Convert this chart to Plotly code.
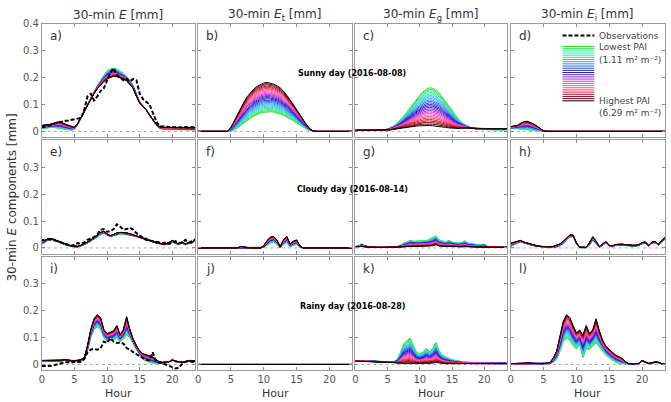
import numpy as np
import plotly.graph_objects as go

# ---------------- data ----------------
hours = [0.0, 0.5, 1.0, 1.5, 2.0, 2.5, 3.0, 3.5, 4.0, 4.5, 5.0, 5.5, 6.0, 6.5, 7.0, 7.5,
         8.0, 8.5, 9.0, 9.5, 10.0, 10.5, 11.0, 11.5, 12.0, 12.5, 13.0, 13.5, 14.0, 14.5, 15.0, 15.5,
         16.0, 16.5, 17.0, 17.5, 18.0, 18.5, 19.0, 19.5, 20.0, 20.5, 21.0, 21.5, 22.0, 22.5, 23.0, 23.5]

pai_values = [1.11, 1.32, 1.52, 1.73, 1.94, 2.15, 2.35, 2.56, 2.77, 2.97, 3.18, 3.39, 3.59,
              3.80, 4.01, 4.22, 4.42, 4.63, 4.84, 5.04, 5.25, 5.46, 5.66, 5.87, 6.08, 6.29]

column_titles = ["30-min <i>E</i> [mm]", "30-min <i>E</i><sub>t</sub> [mm]",
                 "30-min <i>E</i><sub>g</sub> [mm]", "30-min <i>E</i><sub>i</sub> [mm]"]
day_labels = ["Sunny day (2016-08-08)", "Cloudy day (2016-08-14)", "Rainy day (2016-08-28)"]
panel_letters = ["a)", "b)", "c)", "d)", "e)", "f)", "g)", "h)", "i)", "j)", "k)", "l)"]
x_ticks = [0, 5, 10, 15, 20]

# Sunny day
a_low = [0.010,0.012,0.015,0.015,0.014,0.012,0.010,0.008,0.006,0.005,
         0.008,0.025,0.050,0.075,0.100,0.125,0.150,0.170,0.190,0.210,
         0.225,0.232,0.235,0.232,0.225,0.215,0.205,0.190,0.170,0.140,
         0.110,0.095,0.080,0.060,0.040,0.025,0.012,0.008,0.007,0.007,
         0.007,0.006,0.006,0.006,0.006,0.006,0.006,0.006]
a_high = [0.022,0.025,0.025,0.028,0.030,0.035,0.033,0.028,0.022,0.018,
          0.015,0.030,0.052,0.075,0.098,0.120,0.140,0.158,0.172,0.185,
          0.195,0.200,0.205,0.203,0.200,0.195,0.188,0.175,0.160,0.130,
          0.105,0.093,0.080,0.062,0.045,0.028,0.018,0.015,0.015,0.015,
          0.015,0.015,0.015,0.014,0.014,0.014,0.014,0.014]
a_obs = [0.015,0.018,0.020,0.025,0.030,0.035,0.035,0.040,0.040,0.042,
         0.045,0.048,0.050,0.080,0.130,0.140,0.115,0.130,0.150,0.160,
         0.190,0.220,0.235,0.210,0.200,0.190,0.195,0.185,0.195,0.190,
         0.140,0.120,0.110,0.100,0.070,0.040,0.020,0.018,0.018,0.016,
         0.016,0.015,0.016,0.015,0.016,0.015,0.015,0.015]
b_low = [0,0,0,0,0,0,0,0,0,0,
         0,0.005,0.012,0.022,0.032,0.042,0.050,0.057,0.063,0.068,
         0.071,0.073,0.073,0.072,0.069,0.065,0.060,0.054,0.047,0.040,
         0.032,0.024,0.016,0.009,0.004,0.001,0,0,0,0,
         0,0,0,0,0,0,0,0]
b_high = [0,0,0,0,0,0,0,0,0,0,
          0.015,0.040,0.065,0.090,0.110,0.130,0.145,0.158,0.168,0.175,
          0.180,0.182,0.180,0.176,0.170,0.162,0.150,0.135,0.118,0.100,
          0.080,0.060,0.042,0.025,0.010,0.002,0,0,0,0,
          0,0,0,0,0,0,0,0]
c_low = [0.005,0.005,0.005,0.005,0.005,0.005,0.005,0.005,0.005,0.006,
         0.009,0.014,0.021,0.031,0.043,0.057,0.072,0.088,0.104,0.119,
         0.134,0.147,0.157,0.162,0.160,0.153,0.142,0.127,0.110,0.093,
         0.076,0.060,0.046,0.034,0.025,0.018,0.013,0.010,0.009,0.008,
         0.007,0.006,0.006,0.006,0.006,0.006,0.006,0.006]
c_high = [0.004,0.004,0.004,0.004,0.004,0.004,0.004,0.004,0.004,0.004,
          0.005,0.006,0.008,0.010,0.012,0.014,0.016,0.018,0.019,0.020,
          0.021,0.022,0.022,0.022,0.021,0.020,0.019,0.017,0.015,0.013,
          0.012,0.011,0.011,0.012,0.013,0.013,0.012,0.011,0.010,0.010,
          0.010,0.010,0.010,0.010,0.010,0.010,0.010,0.010]
d_low = [0.010,0.012,0.010,0.008,0.007,0.006,0.005,0.004,0.002,0.001,
         0,0,0,0,0,0,0,0,0,0, 0,0,0,0,0,0,0,0,0,0,
         0,0,0,0,0,0,0,0,0,0, 0,0,0,0,0,0,0,0]
d_high = [0.018,0.020,0.022,0.030,0.036,0.038,0.034,0.028,0.020,0.010,
          0.002,0,0,0,0,0,0,0,0,0, 0,0,0,0,0,0,0,0,0,0,
          0,0,0,0,0,0,0,0,0,0, 0,0,0,0,0,0,0,0]

# Cloudy day
e_low = [0.012,0.020,0.030,0.032,0.028,0.022,0.017,0.012,0.009,0.006,
         0.004,0.004,0.007,0.012,0.018,0.025,0.032,0.040,0.050,0.055,
         0.048,0.042,0.046,0.050,0.052,0.052,0.050,0.048,0.045,0.042,
         0.038,0.035,0.038,0.028,0.022,0.018,0.015,0.012,0.012,0.016,
         0.022,0.016,0.012,0.018,0.012,0.016,0.016,0.028]
e_high = [0.030,0.028,0.035,0.035,0.030,0.025,0.020,0.015,0.012,0.008,
          0.006,0.006,0.010,0.015,0.022,0.030,0.038,0.048,0.058,0.062,
          0.052,0.046,0.050,0.056,0.058,0.058,0.056,0.053,0.049,0.045,
          0.040,0.035,0.030,0.027,0.024,0.020,0.018,0.015,0.015,0.020,
          0.028,0.020,0.015,0.022,0.015,0.020,0.020,0.035]
e_obs = [0.030,0.028,0.032,0.030,0.028,0.025,0.020,0.015,0.010,0.008,
         0.012,0.018,0.015,0.020,0.030,0.035,0.040,0.050,0.068,0.070,
         0.060,0.062,0.070,0.088,0.080,0.068,0.070,0.075,0.068,0.055,
         0.045,0.038,0.030,0.028,0.025,0.022,0.020,0.018,0.020,0.015,
         0.020,0.025,0.018,0.020,0.030,0.020,0.025,0.030]
f_low = [0,0,0,0,0,0,0,0,0,0, 0,0,0,0,0,0,0,0,0,0,
         0.002,0.010,0.018,0.022,0.014,0,0.012,0.020,0.004,0.010,
         0.013,0.002,0,0,0,0,0,0,0,0, 0,0,0,0,0,0,0,0]
f_high = [0,0,0,0,0,0,0,0,0,0, 0,0,0,0.006,0.003,0,0,0,0,0,
          0.008,0.028,0.040,0.043,0.030,0.005,0.030,0.043,0.015,0.025,
          0.030,0.008,0,0,0,0,0,0,0,0, 0,0,0,0,0,0,0,0]
g_low = [0.005,0.008,0.015,0.008,0.005,0.003,0.003,0.003,0.003,0.003,
         0.003,0.003,0.003,0.005,0.010,0.018,0.022,0.028,0.025,0.026,
         0.025,0.028,0.027,0.032,0.038,0.045,0.030,0.025,0.022,0.028,
         0.022,0.020,0.018,0.020,0.026,0.018,0.015,0.014,0.012,0.012,
         0.014,0.006,0.004,0.003,0.003,0.003,0.003,0.003]
g_high = [0.003,0.004,0.006,0.004,0.003,0.002,0.002,0.002,0.002,0.002,
          0.002,0.002,0.002,0.002,0.003,0.004,0.005,0.006,0.006,0.006,
          0.006,0.006,0.006,0.007,0.008,0.012,0.007,0.006,0.005,0.006,
          0.005,0.005,0.004,0.004,0.005,0.004,0.004,0.003,0.003,0.003,
          0.003,0.002,0.002,0.002,0.002,0.002,0.002,0.002]
h_low = [0.005,0.012,0.018,0.022,0.018,0.014,0.011,0.008,0.006,0.004,
         0.003,0.002,0.001,0.001,0.003,0.008,0.015,0.028,0.040,0.042,
         0.015,0.001,0.001,0.001,0.010,0.028,0.015,0.002,0.010,0.018,
         0.006,0.004,0.010,0.011,0.011,0.009,0.007,0.007,0.007,0.009,
         0.015,0.017,0.007,0.017,0.019,0.010,0.022,0.032]
h_high = [0.018,0.022,0.025,0.028,0.022,0.018,0.014,0.011,0.008,0.006,
          0.005,0.004,0.004,0.006,0.010,0.015,0.025,0.038,0.048,0.048,
          0.020,0.003,0.002,0.002,0.020,0.042,0.025,0.005,0.015,0.024,
          0.010,0.008,0.013,0.014,0.014,0.012,0.010,0.010,0.010,0.012,
          0.020,0.022,0.010,0.022,0.024,0.014,0.028,0.040]

# Rainy day
i_low = [0.012,0.012,0.012,0.012,0.012,0.012,0.013,0.015,0.013,0.012,
         0.012,0.012,0.014,0.018,0.050,0.100,0.130,0.140,0.130,0.100,
         0.085,0.090,0.090,0.100,0.085,0.095,0.110,0.100,0.075,0.055,
         0.035,0.020,0.012,0.008,0.005,0.003,0.003,0.005,0.008,0.010,
         0.020,0.010,0.008,0.008,0.010,0.012,0.012,0.010]
i_high = [0.015,0.015,0.015,0.015,0.015,0.015,0.016,0.018,0.016,0.015,
          0.015,0.015,0.018,0.025,0.070,0.130,0.170,0.185,0.175,0.130,
          0.115,0.120,0.125,0.145,0.110,0.130,0.178,0.130,0.095,0.070,
          0.050,0.040,0.035,0.032,0.028,0.020,0.010,0.008,0.008,0.010,
          0.015,0.012,0.010,0.008,0.010,0.015,0.015,0.012]
i_obs = [-0.006,-0.007,-0.006,-0.005,-0.002,0.003,0.006,0.008,0.008,0.008,
         0.008,0.008,0.010,0.020,0.045,0.055,0.058,0.055,0.060,0.085,
         0.080,0.098,0.085,0.080,0.082,0.078,0.061,0.055,0.045,0.038,
         0.030,0.022,0.017,0.015,0.045,0.010,0.008,0.005,0.000,-0.005,
         -0.010,-0.015,-0.012,0.002,0.010,0.012,0.010,0.010]
j_low = [0,0,0,0,0,0,0,0,0,0, 0,0,0,0,0,0,0,0,0,0, 0,0,0,0,0,0,0,0,0,0,
         0,0,0,0,0,0,0,0,0,0, 0,0,0,0,0,0,0,0]
j_high = [0,0,0,0,0,0,0,0,0,0, 0,0,0,0,0,0,0,0,0,0, 0,0,0,0,0,0,0,0,0,0,
          0,0,0,0,0,0,0,0,0,0, 0,0,0,0,0,0,0,0]
k_low = [0.015,0.015,0.014,0.014,0.013,0.013,0.013,0.012,0.011,0.010,
         0.010,0.010,0.011,0.020,0.045,0.077,0.088,0.098,0.070,0.045,
         0.040,0.045,0.060,0.048,0.060,0.082,0.050,0.035,0.028,0.022,
         0.018,0.015,0.012,0.010,0.009,0.008,0.008,0.007,0.007,0.006,
         0.006,0.005,0.005,0.005,0.005,0.006,0.006,0.005]
k_high = [0.012,0.012,0.011,0.011,0.010,0.010,0.010,0.009,0.009,0.008,
          0.008,0.008,0.007,0.005,0.004,0.004,0.004,0.004,0.004,0.003,
          0.003,0.003,0.004,0.004,0.005,0.008,0.006,0.004,0.003,0.003,
          0.003,0.003,0.003,0.003,0.003,0.003,0.003,0.003,0.003,0.003,
          0.003,0.003,0.003,0.003,0.003,0.003,0.003,0.003]
l_low = [0.002,0.002,0.002,0.002,0.003,0.003,0.003,0.003,0.002,0.002,
         0.002,0.002,0.003,0.008,0.020,0.050,0.085,0.098,0.090,0.070,
         0.058,0.074,0.025,0.060,0.055,0.070,0.080,0.065,0.050,0.035,
         0.025,0.015,0.008,0.004,0.002,0.002,0.002,0.002,0.002,0.003,
         0.012,0.006,0.003,0.004,0.008,0.006,0.002,0.002]
l_high = [0.003,0.003,0.003,0.004,0.005,0.006,0.006,0.005,0.004,0.003,
          0.003,0.004,0.008,0.025,0.050,0.100,0.160,0.185,0.175,0.145,
          0.118,0.128,0.110,0.145,0.115,0.130,0.170,0.125,0.090,0.068,
          0.055,0.045,0.035,0.030,0.022,0.010,0.003,0.002,0.002,0.004,
          0.015,0.008,0.004,0.006,0.010,0.008,0.003,0.002]

panels_low = [a_low, b_low, c_low, d_low, e_low, f_low, g_low, h_low, i_low, j_low, k_low, l_low]
panels_high = [a_high, b_high, c_high, d_high, e_high, f_high, g_high, h_high, i_high, j_high, k_high, l_high]
observations = {0: a_obs, 4: e_obs, 8: i_obs}

# ---------------- styling ----------------
W, H = 671, 402
COL_PX = [(39, 193), (196, 351), (354, 506), (510, 665)]
ROW_PX = [(19, 134), (137, 252), (255, 370)]
FONT = "DejaVu Sans"

anchors = [(0.0, (30, 224, 30)), (0.1, (70, 232, 150)), (0.2, (30, 215, 225)),
           (0.3, (70, 150, 240)), (0.4, (40, 70, 230)), (0.48, (40, 20, 170)),
           (0.56, (130, 40, 210)), (0.64, (225, 50, 225)), (0.72, (245, 100, 170)),
           (0.8, (240, 60, 90)), (0.88, (200, 10, 40)), (0.95, (110, 10, 20)),
           (1.0, (0, 0, 0))]


def cmap(t):
    for (t0, c0), (t1, c1) in zip(anchors[:-1], anchors[1:]):
        if t <= t1:
            f = (t - t0) / (t1 - t0) if t1 > t0 else 0
            c = [round(c0[k] + (c1[k] - c0[k]) * f) for k in range(3)]
            return "rgb(%d,%d,%d)" % tuple(c)
    return "rgb(0,0,0)"


pmin, pmax = pai_values[0], pai_values[-1]
member_colors = [cmap((p - pmin) / (pmax - pmin)) for p in pai_values]


def px_x(px):
    return px / W


def px_y(py):
    return 1 - py / H


fig = go.Figure()
layout = dict(width=W, height=H, margin=dict(l=0, r=0, t=0, b=0),
              paper_bgcolor="white", plot_bgcolor="white", showlegend=False,
              font=dict(family=FONT, color="#444", size=10))
shapes = []
annotations = []

x_arr = np.array(hours)
for k in range(12):
    r, c = divmod(k, 4)
    n = k + 1
    xa = "x" if n == 1 else "x%d" % n
    ya = "y" if n == 1 else "y%d" % n
    lo = np.array(panels_low[k], dtype=float)
    hi = np.array(panels_high[k], dtype=float)
    for m, p in enumerate(pai_values):
        f = (p - pmin) / (pmax - pmin)
        yv = lo + (hi - lo) * f
        fig.add_trace(go.Scatter(x=x_arr, y=yv, mode="lines", xaxis=xa, yaxis=ya,
                                 line=dict(color=member_colors[m], width=1),
                                 hoverinfo="skip"))
    if k in observations:
        fig.add_trace(go.Scatter(x=x_arr, y=observations[k], mode="lines", xaxis=xa, yaxis=ya,
                                 line=dict(color="black", width=2, dash="4px,2px"),
                                 hoverinfo="skip"))
    x0, x1 = COL_PX[c]
    y0, y1 = ROW_PX[r]
    yt = [0, 0.1, 0.2, 0.3, 0.4] if r == 0 else [0, 0.1, 0.2, 0.3]
    ytt = ["0", "0.1", "0.2", "0.3", "0.4"][:len(yt)]
    layout["xaxis" if n == 1 else "xaxis%d" % n] = dict(
        domain=[px_x(x0), px_x(x1)], range=[0, 23.5], anchor=ya,
        tickvals=x_ticks, showticklabels=(r == 2), ticks="inside", ticklen=3,
        tickcolor="#888", showline=True, linecolor="#9a9a9a", linewidth=1,
        mirror="ticks", showgrid=False, zeroline=False,
        tickfont=dict(size=10, color="#555", family=FONT))
    layout["yaxis" if n == 1 else "yaxis%d" % n] = dict(
        domain=[px_y(y1), px_y(y0)], range=[-0.022, 0.4], anchor=xa,
        tickvals=yt, ticktext=ytt, showticklabels=(c == 0), ticks="inside", ticklen=3,
        tickcolor="#888", showline=True, linecolor="#9a9a9a", linewidth=1,
        mirror="ticks", showgrid=False, zeroline=False,
        tickfont=dict(size=10, color="#555", family=FONT))
    shapes.append(dict(type="line", xref=xa + " domain", yref=ya, x0=0, x1=1, y0=0, y1=0,
                       line=dict(color="#aaaaaa", width=1, dash="dot"), layer="below"))
    annotations.append(dict(text=panel_letters[k], xref=xa + " domain", yref=ya + " domain",
                            x=0.04, y=0.975, xanchor="left", yanchor="top", showarrow=False,
                            font=dict(size=12, color="#333", family=FONT)))

for c in range(4):
    x0, x1 = COL_PX[c]
    annotations.append(dict(text=column_titles[c], xref="paper", yref="paper",
                            x=px_x((x0 + x1) / 2), y=px_y(10), xanchor="center", yanchor="middle",
                            showarrow=False, font=dict(size=12, color="#333", family=FONT)))
    annotations.append(dict(text="Hour", xref="paper", yref="paper",
                            x=px_x((x0 + x1) / 2), y=px_y(393), xanchor="center", yanchor="middle",
                            showarrow=False, font=dict(size=11, color="#333", family=FONT)))

for r, lab in enumerate(day_labels):
    yc = [69, 187, 305][r]
    annotations.append(dict(text="<b>%s</b>" % lab, xref="paper", yref="paper",
                            x=px_x(351), y=px_y(yc), xanchor="center", yanchor="middle",
                            showarrow=False, font=dict(size=8, color="black", family=FONT)))

annotations.append(dict(text="30-min <i>E</i> components [mm]", xref="paper", yref="paper",
                        x=px_x(9), y=px_y(195), textangle=-90, xanchor="center", yanchor="middle",
                        showarrow=False, font=dict(size=12, color="#333", family=FONT)))

# legend inside panel d
lx0, lx1 = 562, 594
shapes.append(dict(type="line", xref="paper", yref="paper", x0=px_x(lx0), x1=px_x(lx1),
                   y0=px_y(31), y1=px_y(31), line=dict(color="black", width=2, dash="4px,2px")))
nm = len(pai_values)
for m in range(nm):
    yy = 42 + (97 - 42) * m / (nm - 1)
    shapes.append(dict(type="line", xref="paper", yref="paper", x0=px_x(lx0), x1=px_x(lx1),
                       y0=px_y(yy), y1=px_y(yy), line=dict(color=member_colors[m], width=1)))
for txt, yy in [("Observations", 31), ("Lowest PAI", 43), ("(1.11 m² m⁻²)", 56),
                ("Highest PAI", 97), ("(6.29 m² m⁻²)", 109)]:
    annotations.append(dict(text=txt, xref="paper", yref="paper", x=px_x(597), y=px_y(yy),
                            xanchor="left", yanchor="middle", showarrow=False,
                            font=dict(size=9, color="#444", family=FONT)))

layout["shapes"] = shapes
layout["annotations"] = annotations
fig.update_layout(**layout)
fig.write_html("out.html")
